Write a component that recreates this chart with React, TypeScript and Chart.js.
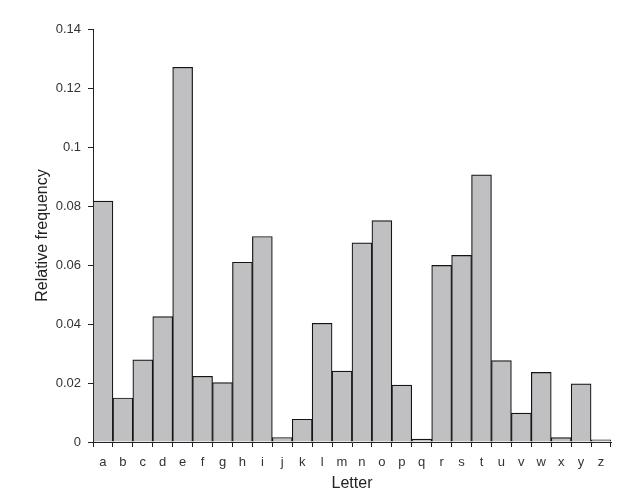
import React, { useEffect, useRef } from "react";
import { Chart, registerables } from "chart.js";

Chart.register(...registerables);

const letters = ["a","b","c","d","e","f","g","h","i","j","k","l","m","n","o","p","q","r","s","t","u","v","w","x","y","z"];
const frequencies = [0.08167,0.01492,0.02782,0.04253,0.12702,0.02228,0.02015,0.06094,0.06966,0.00153,0.00772,0.04025,0.02406,0.06749,0.07507,0.01929,0.00095,0.05987,0.06327,0.09056,0.02758,0.00978,0.0236,0.0015,0.01974,0.00074];
const yMin = 0;
const yMax = 0.14;
const yStep = 0.02;

export default function App() {
  const ref = useRef<HTMLCanvasElement | null>(null);
  useEffect(() => {
    if (!ref.current) return;
    const font = "'Liberation Sans', Arial, sans-serif";
    const chart = new Chart(ref.current, {
      type: "bar",
      data: {
        labels: letters,
        datasets: [
          {
            data: frequencies,
            backgroundColor: "#c0bfc2",
            borderColor: "#141414",
            borderWidth: 1.2,
            categoryPercentage: 1,
            barPercentage: 1,
          },
        ],
      },
      options: {
        animation: false,
        responsive: false,
        maintainAspectRatio: false,
        layout: { padding: { top: 29, right: 33, bottom: 0, left: 0 } },
        plugins: { legend: { display: false }, tooltip: { enabled: false } },
        scales: {
          x: {
            offset: true,
            grid: {
              display: true,
              offset: true,
              drawOnChartArea: false,
              drawTicks: true,
              tickLength: 5,
              color: "#222",
              lineWidth: 1,
            },
            border: { display: true, color: "#222", width: 1 },
            ticks: { color: "#333", font: { family: font, size: 13 }, padding: 8, maxRotation: 0, autoSkip: false },
            title: {
              display: true,
              text: "Letter",
              color: "#222",
              font: { family: font, size: 16 },
              padding: { top: 0, bottom: 1 },
            },
            afterFit: (s: any) => {
              s.height = 52;
            },
          },
          y: {
            min: yMin,
            max: yMax,
            grid: {
              display: true,
              drawOnChartArea: false,
              drawTicks: true,
              tickLength: 5,
              color: "#222",
            },
            border: { display: true, color: "#222", width: 1 },
            ticks: {
              stepSize: yStep,
              color: "#333",
              font: { family: font, size: 13 },
              padding: 7,
              callback: (v: any) => String(Math.round(Number(v) * 100) / 100),
            },
            title: {
              display: true,
              text: "Relative frequency",
              color: "#222",
              font: { family: font, size: 16 },
              padding: { top: 33, bottom: 0 },
            },
            afterFit: (s: any) => {
              s.width = 93;
            },
          },
        },
      },
    });
    return () => chart.destroy();
  }, []);
  return (
    <div style={{ position: "fixed", left: 0, top: 0, width: 644, height: 494, background: "#fff" }}>
      <canvas ref={ref} width={644} height={494} style={{ width: 644, height: 494, display: "block" }} />
    </div>
  );
}
